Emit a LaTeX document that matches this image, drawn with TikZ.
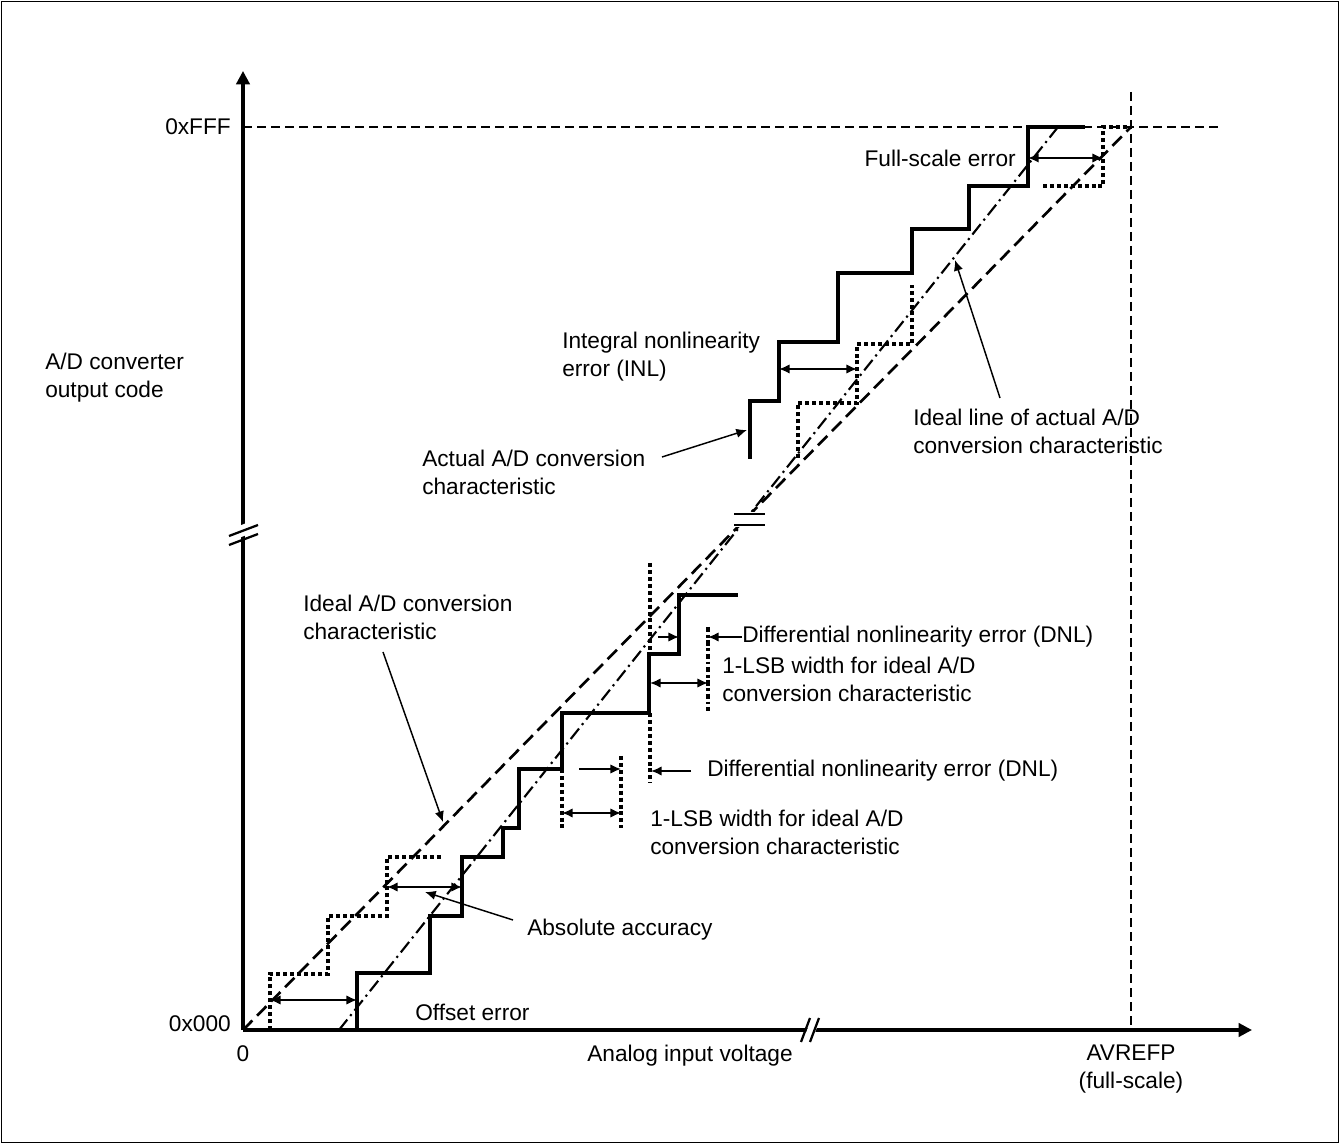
\documentclass[tikz,border=0pt]{standalone}
\usepackage{fontspec}
\setmainfont{Liberation Sans}
\usetikzlibrary{arrows.meta}
\begin{document}
\begin{tikzpicture}[x=0.75pt,y=-0.75pt,
  lbl/.style={inner sep=0pt,font=\fontsize{17}{21}\selectfont,align=left},
  axisline/.style={line width=2.3pt},
  stair/.style={line width=2.4pt},
  dotstair/.style={line width=3.2pt,dash pattern=on 3pt off 2.2pt},
  bolddot/.style={line width=3.6pt,dash pattern=on 4pt off 2pt on 2pt off 2pt},
  idealln/.style={line width=2pt,dash pattern=on 10pt off 5pt},
  actln/.style={line width=1.6pt,dash pattern=on 10pt off 3.5pt on 1.6pt off 3.5pt},
  guide/.style={line width=1.6pt,dash pattern=on 6.5pt off 4pt},
  arr/.style={line width=1.1pt,-{Latex[length=8pt,width=7pt]}},
  darr/.style={line width=1.1pt,{Latex[length=8pt,width=7pt]}-{Latex[length=8pt,width=7pt]}}
]
\useasboundingbox (0,0) rectangle (1340,1144);
\draw[line width=1pt] (1.5,1.5) rectangle (1338.5,1142.5);

% coordinates
\coordinate (O) at (243,1030);
\coordinate (ytop) at (243,71);
\coordinate (xend) at (1252,1030);
\coordinate (cFS) at (1131,127);

% guides
\draw[guide] (243,127) -- (1222,127);
\draw[guide] (1131,92) -- (1131,1030);

% ideal line and actual ideal line
\draw[idealln] (O) -- (cFS);
\draw[actln] (339,1030) -- (1058,127);

% break on diagonals
\fill[white] (730,512) rectangle (770,527);
\draw[line width=2.2pt] (734,514) -- (765,514);
\draw[line width=2.2pt] (734,525) -- (765,525);

% axes
\draw[axisline,-{Triangle[length=10pt,width=10pt]}] (O) -- (ytop);
\draw[axisline,-{Triangle[length=10pt,width=10pt]}] (O) -- (xend);
% axis breaks
\fill[white] (231,529) -- (257,519) -- (257,531) -- (231,541) -- cycle;
\draw[line width=1.7pt] (229,536) -- (258,525);
\draw[line width=1.7pt] (229,545) -- (258,534);
\fill[white] (803,1040) -- (811,1020) -- (820,1020) -- (812,1040) -- cycle;
\draw[line width=1.7pt] (801,1042) -- (810,1018);
\draw[line width=1.7pt] (810,1042) -- (819,1018);

% lower ideal (dotted) staircase
\draw[dotstair] (270,1030) |- (328,974) |- (387,916) |- (442,857);
% lower actual staircase
\draw[stair] (357,1030) |- (430,973) |- (462,916) |- (503,857) |- (519,828) |- (562,769) |- (649,713) |- (679,654) |- (738,595);
% dotted markers mid
\draw[dotstair] (562,769) -- (562,828);
\draw[dotstair] (621,756) -- (621,828);
\draw[dotstair] (650,563) -- (650,654);
\draw[dotstair] (650,713) -- (650,783);
\draw[bolddot] (708,627) -- (708,711);

% upper actual staircase
\draw[stair] (750,459) |- (779,401) |- (838,342) |- (912,273) |- (969,229) |- (1028,186) |- (1085,127);
% upper dotted staircase
\draw[dotstair] (798,458) |- (857,403) |- (912,344) -- (912,285);
\draw[dotstair] (1043,186) -| (1103,127) -- (1130,127);

% dimension arrows
\draw[darr] (270,1000) -- (357,1000);
\draw[darr] (387,887) -- (462,887);
\draw[arr] (579,769) -- (621,769);
\draw[darr] (562,813) -- (621,813);
\draw[arr] (658,637) -- (679,637);
\draw[darr] (650,683) -- (708,683);
\draw[darr] (779,369) -- (857,369);
\draw[darr] (1028,158) -- (1103,158);

% labels
\node[lbl,anchor=east] (yFFF) at (231,127) {0xFFF};
\node[lbl,anchor=east] (y000) at (231,1024) {0x000};
\node[lbl,anchor=north] (x0) at (243,1045) {0};
\node[lbl,anchor=north] (xlab) at (690,1045) {Analog input voltage};
\node[lbl,anchor=north,align=center] (xfs) at (1131,1045) {AVREFP\\(full-scale)};
\node[lbl,anchor=west] (ylab) at (45,378) {A/D converter\\output code};

\node[lbl,anchor=east] (tFS) at (1016,158) {Full-scale error};
\node[lbl,anchor=west] (tILA) at (913,431) {Ideal line of actual A/D\\conversion characteristic};
\coordinate (tILAp) at (1000,398);
\coordinate (tILAq) at (955,260);
\draw[arr] (tILAp) -- (tILAq);

\node[lbl,anchor=west] (tINL) at (562,357) {Integral nonlinearity\\error (INL)};
\node[lbl,anchor=west] (tACT) at (422,472) {Actual A/D conversion\\characteristic};
\coordinate (aACT) at (662,457);
\coordinate (bACT) at (747,430);
\draw[arr] (aACT) -- (bACT);

\node[lbl,anchor=west] (tIDL) at (303,617) {Ideal A/D conversion\\characteristic};
\coordinate (aIDL) at (383,652);
\coordinate (bIDL) at (443,822);
\draw[arr] (aIDL) -- (bIDL);

\node[lbl,anchor=west] (tDNL1) at (742,637) {Differential nonlinearity error (DNL)};
\coordinate (aDNL1) at (708,637);
\draw[arr] (tDNL1.west) -- (aDNL1);
\node[lbl,anchor=west] (tLSB1) at (722,679) {1-LSB width for ideal A/D\\conversion characteristic};

\node[lbl,anchor=west] (tDNL2) at (707,771) {Differential nonlinearity error (DNL)};
\coordinate (aDNL2) at (651,771);
\draw[arr] ([xshift=-12pt]tDNL2.west) -- (aDNL2);
\node[lbl,anchor=west] (tLSB2) at (650,832) {1-LSB width for ideal A/D\\conversion characteristic};

\node[lbl,anchor=west] (tABS) at (527,930) {Absolute accuracy};
\coordinate (aABS) at (513,920);
\coordinate (bABS) at (425,892);
\draw[arr] (aABS) -- (bABS);

\node[lbl,anchor=west] (tOFF) at (415,1012) {Offset error};
\end{tikzpicture}
\end{document}
